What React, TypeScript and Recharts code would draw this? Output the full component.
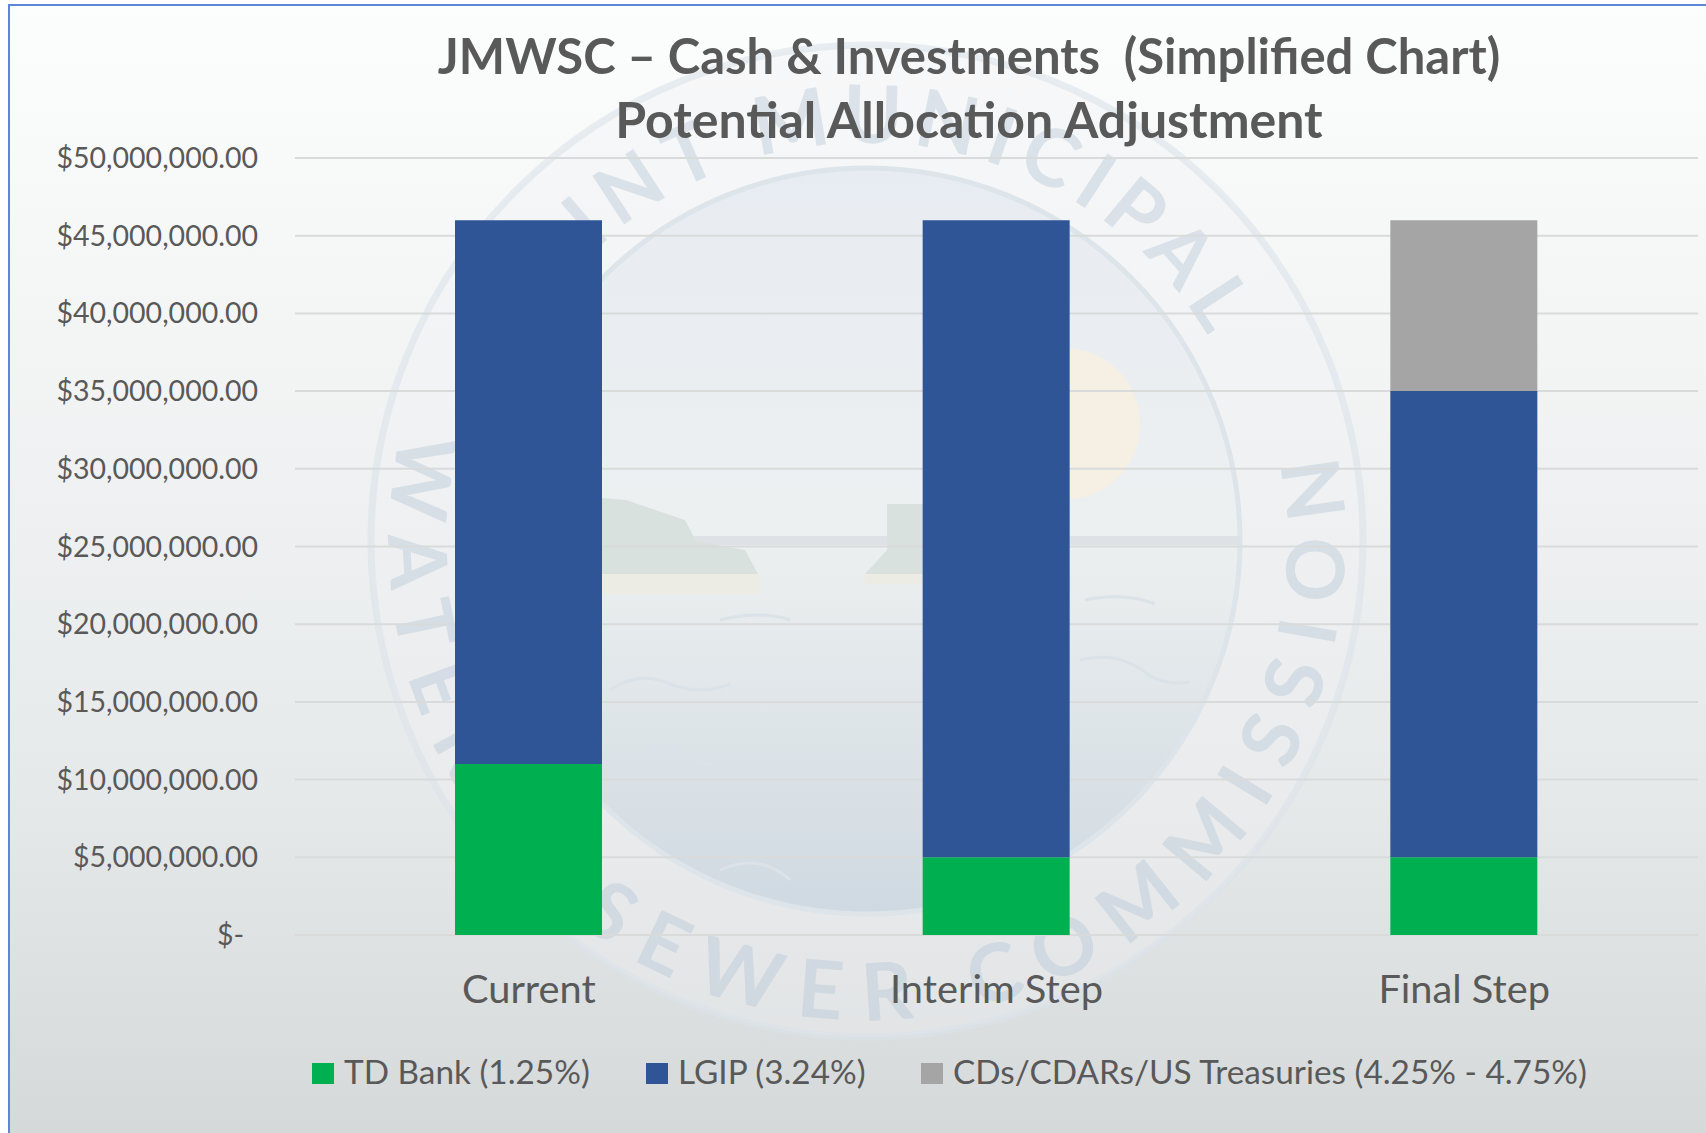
import React from "react";
import { BarChart, Bar, XAxis, YAxis, CartesianGrid, Legend } from "recharts";

const categories = ["Current", "Interim Step", "Final Step"];
const tdBank = [11000000, 5000000, 5000000];
const lgip = [35000000, 41000000, 30000000];
const cds = [0, 0, 11000000];
const yTicks = [0, 5000000, 10000000, 15000000, 20000000, 25000000, 30000000, 35000000, 40000000, 45000000, 50000000];
const titleLines = ["JMWSC – Cash & Investments  (Simplified Chart)", "Potential Allocation Adjustment"];
const seriesNames = ["TD Bank (1.25%)", "LGIP (3.24%)", "CDs/CDARs/US Treasuries (4.25% - 4.75%)"];

const data = categories.map((name, i) => ({ name, td: tdBank[i], lgip: lgip[i], cds: cds[i] }));

const FONT = "Lato, sans-serif";
const INK = "#595959";

const fmt = (v: number) =>
  v === 0 ? "$-" : "$" + v.toLocaleString("en-US", { minimumFractionDigits: 2, maximumFractionDigits: 2 });

function Squeezed({ x, y, size, anchor, weight, children, sx = 1 }: any) {
  return (
    <text
      transform={`translate(${x} ${y}) scale(${sx} 1)`}
      textAnchor={anchor}
      fontFamily={FONT}
      fontSize={size}
      fontWeight={weight ?? 400}
      fill={INK}
      style={{ whiteSpace: "pre" }}
    >
      {children}
    </text>
  );
}

const YTick = ({ x, y, payload }: any) => (
  <Squeezed x={payload.value === 0 ? x - 14 : x} y={y + 10} size={28.5} anchor="end" sx={1}>
    {fmt(payload.value)}
  </Squeezed>
);

const XTick = ({ x, payload }: any) => (
  <Squeezed x={x} y={1003} size={39} anchor="middle" sx={1.02}>
    {payload.value}
  </Squeezed>
);

const LEGEND_X = [312, 646, 921];

const LegendBody = ({ payload }: any) => (
  <svg width={1706} height={80} style={{ display: "block" }}>
    {(payload ?? []).map((p: any, i: number) => (
      <g key={p.value}>
        <rect x={LEGEND_X[i]} y={23} width={22} height={21} fill={p.color} />
        <Squeezed x={LEGEND_X[i] + 32} y={44} size={33} anchor="start" sx={1.01}>
          {p.value}
        </Squeezed>
      </g>
    ))}
  </svg>
);

const CX = 867;
const CY = 541;

const Watermark = () => (
  <svg width={1706} height={1133} style={{ position: "absolute", left: 0, top: 0 }}>
    <defs>
      <linearGradient id="disc" x1="0" y1="0" x2="0" y2="1">
        <stop offset="0" stopColor="#e7ecf2" />
        <stop offset="0.48" stopColor="#edf0f1" />
        <stop offset="0.56" stopColor="#e9edee" />
        <stop offset="1" stopColor="#cfd9e1" />
      </linearGradient>
      <path id="topArc" d={`M ${CX - 398} ${CY} A 398 398 0 0 1 ${CX + 398} ${CY}`} />
      <path id="botArc" d={`M ${CX - 450} ${CY - 160} A 478 478 0 1 0 ${CX + 450} ${CY - 160}`} />
      <clipPath id="discClip">
        <circle cx={CX} cy={CY} r={373} />
      </clipPath>
    </defs>
    <circle cx={CX} cy={CY} r={496} fill="#f0f2f3" fillOpacity={0.35} stroke="#dbe3ea" strokeOpacity={0.6} strokeWidth={7} />
    <circle cx={CX} cy={CY} r={373} fill="url(#disc)" stroke="#dde4ea" strokeWidth={5} />
    <g clipPath="url(#discClip)">
      <circle cx={1064} cy={424} r={76} fill="#f6efe3" />
      <rect x={490} y={536} width={760} height={9} fill="#dee2e6" />
      <polygon points="602,498 626,500 685,520 696,541 745,550 758,574 540,574 540,498" fill="#d9e1de" />
      <polygon points="865,574 887,550 887,504 1000,504 1000,574" fill="#d9e1de" />
      <rect x={520} y={574} width={240} height={20} fill="#ecece5" />
      <rect x={865} y={574} width={140} height={10} fill="#ecece5" />
      <g fill="none" stroke="#dbe2e8" strokeWidth={3}>
        <path d="M 610 690 q 30 -20 60 -6 q 30 12 60 0" />
        <path d="M 640 760 q 25 -18 50 -2 q 20 10 50 6" />
        <path d="M 720 620 q 40 -10 70 0" />
        <path d="M 1080 660 q 40 -10 70 16 q 20 10 40 6" />
        <path d="M 1085 600 q 40 -8 70 4" />
        <path d="M 720 870 q 40 -18 70 10" />
      </g>
    </g>
    <g fontFamily={FONT} fontWeight={700} fill="#b4c6d6" fillOpacity={0.42} fontSize={80}>
      <text textAnchor="middle" letterSpacing={10}>
        <textPath href="#topArc" startOffset="50%">JOINT MUNICIPAL</textPath>
      </text>
      <text textAnchor="middle" letterSpacing={22}>
        <textPath href="#botArc" startOffset="50%">WATER &amp; SEWER COMMISSION</textPath>
      </text>
    </g>
  </svg>
);

export default function App() {
  return (
    <div
      style={{
        position: "absolute",
        left: 0,
        top: 0,
        width: 1706,
        height: 1133,
        overflow: "hidden",
        background: "#ffffff",
      }}
    >
      <div
        style={{
          position: "absolute",
          left: 8,
          top: 4,
          width: 1698,
          height: 1129,
          boxSizing: "border-box",
          borderLeft: "2px solid #5a87d8",
          borderTop: "2px solid #5a87d8",
          background: "linear-gradient(180deg, #fcfdfd 0%, #f3f5f5 30%, #e6e9ea 70%, #d5d9da 100%)",
        }}
      />
      <Watermark />
      <div style={{ position: "absolute", left: 0, top: 0 }}>
        <BarChart
          width={1706}
          height={1133}
          data={data}
          margin={{ top: 158, right: 8, bottom: 138, left: 0 }}
          style={{ background: "transparent" }}
        >
          <CartesianGrid vertical={false} stroke="#d9dbdb" strokeWidth={2} />
          <XAxis dataKey="name" axisLine={false} tickLine={false} tick={<XTick />} interval={0} height={60} />
          <YAxis
            width={295}
            domain={[0, 50000000]}
            ticks={yTicks}
            axisLine={false}
            tickLine={false}
            tickMargin={31}
            tick={<YTick />}
            interval={0}
          />
          <Legend
            verticalAlign="middle"
            layout="horizontal"
            itemSorter={null}
            wrapperStyle={{ position: "absolute", left: 0, top: 1040, width: 1706, height: 80 }}
            content={<LegendBody />}
          />
          <Bar dataKey="td" name={seriesNames[0]} stackId="a" fill="#00b050" barSize={147} isAnimationActive={false} />
          <Bar dataKey="lgip" name={seriesNames[1]} stackId="a" fill="#2f5597" barSize={147} isAnimationActive={false} />
          <Bar dataKey="cds" name={seriesNames[2]} stackId="a" fill="#a5a5a5" barSize={147} isAnimationActive={false} />
        </BarChart>
      </div>
      <svg width={1706} height={200} style={{ position: "absolute", left: 0, top: 0, pointerEvents: "none" }}>
        <Squeezed x={969} y={74} size={49} anchor="middle" weight={700}>
          {titleLines[0]}
        </Squeezed>
        <Squeezed x={969} y={138} size={50} anchor="middle" weight={700}>
          {titleLines[1]}
        </Squeezed>
      </svg>
    </div>
  );
}
